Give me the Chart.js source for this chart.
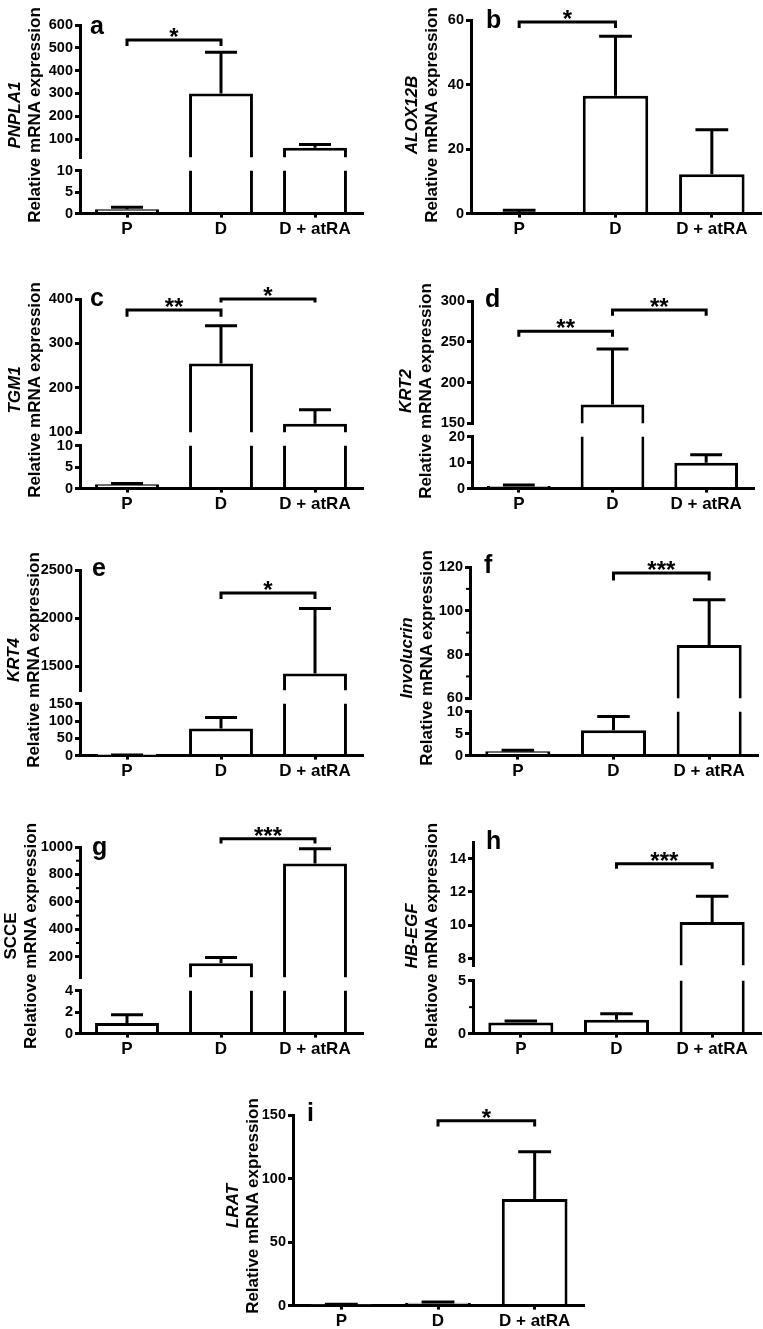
<!DOCTYPE html>
<html>
<head>
<meta charset="utf-8">
<script src="https://cdn.jsdelivr.net/npm/chart.js@4/dist/chart.umd.min.js"></script>
<style>
  html, body { margin: 0; padding: 0; background: #fff; }
  body { width: 763px; height: 1329px; position: relative; overflow: hidden; font-family: "Liberation Sans", Arial, sans-serif; }
  canvas { position: absolute; }
  .letter { position: absolute; font-weight: bold; font-size: 25px; line-height: 24px; }
  .ytitle { position: absolute; width: 280px; height: 40px; transform: rotate(-90deg); transform-origin: center; white-space: nowrap; font-weight: bold; font-size: 17px; line-height: 20px; text-align: center; }
  .ytitle .gene { display: block; }
  .ytitle .it { font-style: italic; }
</style>
</head>
<body>
<script>
Chart.defaults.font.family = '"Liberation Sans", Arial, sans-serif';
Chart.defaults.color = '#000';

const categories = ['P', 'D', 'D + atRA'];

// a - PNPLA1
const pnpla1Values = [1, 300, 62];
const pnpla1Errors = [1.5, 480, 76];
const pnpla1UpperTicks = [100, 200, 300, 400, 500, 600];
const pnpla1LowerTicks = [0, 5, 10];
const pnpla1Brackets = [[0, 1, 534, 508, '*']];

// b - ALOX12B
const alox12bValues = [0.5, 36.5, 12.2];
const alox12bErrors = [1.0, 55, 26];
const alox12bTicks = [0, 20, 40, 60];
const alox12bBrackets = [[0, 1, 59.4, 57.5, '*']];

// c - TGM1
const tgm1Values = [1, 255, 119];
const tgm1Errors = [1.2, 340, 151];
const tgm1UpperTicks = [100, 200, 300, 400];
const tgm1LowerTicks = [0, 5, 10];
const tgm1Brackets = [[0, 1, 375, 360, '**'], [1, 2, 400, 392, '*']];

// d - KRT2
const krt2Values = [1, 173, 10];
const krt2Errors = [1.4, 241, 13];
const krt2UpperTicks = [150, 200, 250, 300];
const krt2LowerTicks = [0, 10, 20];
const krt2Brackets = [[0, 1, 263, 256, '**'], [1, 2, 289, 282, '**']];

// e - KRT4
const krt4Values = [1, 78, 1424];
const krt4Errors = [1.5, 110, 2100];
const krt4UpperTicks = [1500, 2000, 2500];
const krt4LowerTicks = [0, 50, 100, 150];
const krt4Brackets = [[1, 2, 2260, 2198, '*']];

// f - Involucrin
const involucrinValues = [1, 5.8, 84.3];
const involucrinErrors = [1.2, 8.9, 105];
const involucrinUpperTicks = [60, 80, 100, 120];
const involucrinUpperMinor = [70, 90, 110];
const involucrinLowerTicks = [0, 5, 10];
const involucrinBrackets = [[1, 2, 117.3, 113.8, '***']];

// g - SCCE
const scceValues = [1, 152, 879];
const scceErrors = [1.75, 195, 988];
const scceUpperTicks = [200, 400, 600, 800, 1000];
const scceUpperMinor = [300, 500, 700, 900];
const scceLowerTicks = [0, 2, 4];
const scceBrackets = [[1, 2, 1061, 1025, '***']];

// h - HB-EGF
const hbegfValues = [1.05, 1.3, 10.2];
const hbegfErrors = [1.2, 1.88, 11.75];
const hbegfUpperTicks = [8, 10, 12, 14];
const hbegfLowerTicks = [0, 5];
const hbegfLowerMinor = [2.5];
const hbegfBrackets = [[1, 2, 13.7, 13.4, '***']];

// i - LRAT
const lratValues = [0.8, 2.2, 83.8];
const lratErrors = [1.0, 2.8, 121];
const lratTicks = [0, 50, 100, 150];
const lratBrackets = [[1, 2, 145.5, 141, '*']];

const panels = [
  { letter: 'a', lx: 90, lb: 33, gene: 'PNPLA1', italic: true, title: 'Relative mRNA expression', tx: 25, ty: 115,
    values: pnpla1Values, errors: pnpla1Errors, brackets: pnpla1Brackets, left: 80, right: 362,
    segments: [
      { top: 25, bottom: 157, min: 20, max: 600, ticks: pnpla1UpperTicks },
      { top: 171, bottom: 214, min: 0, max: 10, ticks: pnpla1LowerTicks }
    ] },
  { letter: 'b', lx: 486, lb: 27, gene: 'ALOX12B', italic: true, title: 'Relative mRNA expression', tx: 422, ty: 115,
    values: alox12bValues, errors: alox12bErrors, brackets: alox12bBrackets, left: 471, right: 760,
    segments: [
      { top: 20, bottom: 214, min: 0, max: 60, ticks: alox12bTicks }
    ] },
  { letter: 'c', lx: 90, lb: 305, gene: 'TGM1', italic: true, title: 'Relative mRNA expression', tx: 25, ty: 390,
    values: tgm1Values, errors: tgm1Errors, brackets: tgm1Brackets, left: 80, right: 362,
    segments: [
      { top: 299, bottom: 432, min: 100, max: 400, ticks: tgm1UpperTicks },
      { top: 446, bottom: 489, min: 0, max: 10, ticks: tgm1LowerTicks }
    ] },
  { letter: 'd', lx: 485, lb: 306, gene: 'KRT2', italic: true, title: 'Relative mRNA expression', tx: 416, ty: 391,
    values: krt2Values, errors: krt2Errors, brackets: krt2Brackets, left: 472, right: 753,
    segments: [
      { top: 301, bottom: 423, min: 150, max: 300, ticks: krt2UpperTicks },
      { top: 437, bottom: 489, min: 0, max: 20, ticks: krt2LowerTicks }
    ] },
  { letter: 'e', lx: 92, lb: 575, gene: 'KRT4', italic: true, title: 'Relative mRNA expression', tx: 24, ty: 660,
    values: krt4Values, errors: krt4Errors, brackets: krt4Brackets, left: 80, right: 362,
    segments: [
      { top: 570, bottom: 690, min: 1250, max: 2500, ticks: krt4UpperTicks },
      { top: 704, bottom: 756, min: 0, max: 150, ticks: krt4LowerTicks }
    ] },
  { letter: 'f', lx: 484, lb: 572, gene: 'Involucrin', italic: true, title: 'Relative mRNA expression', tx: 417, ty: 658,
    values: involucrinValues, errors: involucrinErrors, brackets: involucrinBrackets, left: 470, right: 757,
    segments: [
      { top: 567, bottom: 698, min: 60, max: 120, ticks: involucrinUpperTicks, minor: involucrinUpperMinor },
      { top: 712, bottom: 756, min: 0, max: 10, ticks: involucrinLowerTicks }
    ] },
  { letter: 'g', lx: 92, lb: 854, gene: 'SCCE', italic: false, title: 'Relatiove mRNA expression', tx: 21, ty: 936,
    values: scceValues, errors: scceErrors, brackets: scceBrackets, left: 80, right: 362,
    segments: [
      { top: 847, bottom: 977, min: 50, max: 1000, ticks: scceUpperTicks, minor: scceUpperMinor },
      { top: 991, bottom: 1034, min: 0, max: 4, ticks: scceLowerTicks }
    ] },
  { letter: 'h', lx: 486, lb: 848, gene: 'HB-EGF', italic: true, title: 'Relatiove mRNA expression', tx: 422, ty: 936,
    values: hbegfValues, errors: hbegfErrors, brackets: hbegfBrackets, left: 473, right: 760,
    segments: [
      { top: 842, bottom: 965, min: 7.6, max: 15, ticks: hbegfUpperTicks },
      { top: 981, bottom: 1034, min: 0, max: 5, ticks: hbegfLowerTicks, minor: hbegfLowerMinor }
    ] },
  { letter: 'i', lx: 307, lb: 1120, gene: 'LRAT', italic: true, title: 'Relative mRNA expression', tx: 243, ty: 1206,
    values: lratValues, errors: lratErrors, brackets: lratBrackets, left: 293, right: 583,
    segments: [
      { top: 1115, bottom: 1306, min: 0, max: 150, ticks: lratTicks }
    ] }
];

// error bars, minor ticks and significance brackets
function overlay(panel, seg, isTop) {
  return {
    id: 'overlay',
    afterDatasetsDraw(chart) {
      const { ctx, chartArea } = chart;
      const y = chart.scales.y;
      const meta = chart.getDatasetMeta(0);
      ctx.save();
      ctx.beginPath();
      ctx.rect(chartArea.left, chartArea.top, chartArea.right - chartArea.left, chartArea.bottom - chartArea.top);
      ctx.clip();
      ctx.strokeStyle = '#000';
      ctx.lineWidth = 3;
      meta.data.forEach((bar, i) => {
        const y0 = y.getPixelForValue(panel.values[i]);
        const y1 = y.getPixelForValue(panel.errors[i]);
        const half = bar.width / 4;
        ctx.beginPath();
        ctx.moveTo(bar.x, y0);
        ctx.lineTo(bar.x, y1);
        ctx.moveTo(bar.x - half, y1);
        ctx.lineTo(bar.x + half, y1);
        ctx.stroke();
      });
      ctx.restore();
      if (seg.minor) {
        ctx.save();
        ctx.strokeStyle = '#000';
        ctx.lineWidth = 2;
        seg.minor.forEach(v => {
          const py = y.getPixelForValue(v);
          ctx.beginPath();
          ctx.moveTo(chartArea.left - 4, py);
          ctx.lineTo(chartArea.left, py);
          ctx.stroke();
        });
        ctx.restore();
      }
    },
    afterDraw(chart) {
      if (!isTop) return;
      const { ctx } = chart;
      const y = chart.scales.y;
      const meta = chart.getDatasetMeta(0);
      ctx.save();
      ctx.strokeStyle = '#000';
      ctx.fillStyle = '#000';
      ctx.lineWidth = 3;
      ctx.font = 'bold 24px "Liberation Sans", Arial, sans-serif';
      ctx.textAlign = 'center';
      ctx.textBaseline = 'alphabetic';
      panel.brackets.forEach(([a, b, top, leg, label]) => {
        const x0 = meta.data[a].x, x1 = meta.data[b].x;
        const yt = y.getPixelForValue(top), yl = y.getPixelForValue(leg);
        ctx.beginPath();
        ctx.moveTo(x0, yl);
        ctx.lineTo(x0, yt);
        ctx.lineTo(x1, yt);
        ctx.lineTo(x1, yl);
        ctx.stroke();
        ctx.fillText(label, (x0 + x1) / 2, yt + 5);
      });
      ctx.restore();
    }
  };
}

function buildConfig(panel, seg, isTop, isBottom) {
  return {
    type: 'bar',
    data: {
      labels: categories,
      datasets: [{
        data: panel.values,
        backgroundColor: '#fff',
        borderColor: '#000',
        borderWidth: 3,
        borderSkipped: 'start',
        barPercentage: 0.68,
        categoryPercentage: 1,
        clip: 0
      }]
    },
    options: {
      responsive: false,
      animation: false,
      events: [],
      layout: { padding: { top: isTop ? 30 : 8, bottom: isBottom ? 4 : 8, left: 0, right: 4 } },
      plugins: { legend: { display: false }, tooltip: { enabled: false } },
      scales: {
        x: {
          display: isBottom,
          offset: true,
          grid: { offset: false, drawOnChartArea: false, tickLength: 4, lineWidth: 3, color: '#000' },
          border: { color: '#000', width: 3 },
          ticks: { color: '#000', padding: 2, font: { size: 17, weight: 'bold' } }
        },
        y: {
          min: seg.min,
          max: seg.max,
          afterBuildTicks: s => { s.ticks = seg.ticks.map(v => ({ value: v })); },
          afterFit: s => { s.width = 46; },
          grid: { drawOnChartArea: false, tickLength: 5, lineWidth: 3, color: '#000' },
          border: { color: '#000', width: 3 },
          ticks: { color: '#000', padding: 2, autoSkip: false, font: { size: 14.5, weight: 'bold' }, callback: v => String(v) }
        }
      }
    },
    plugins: [overlay(panel, seg, isTop)]
  };
}

function sizeCanvas(canvas, w, h) {
  canvas.width = w; canvas.height = h;
  canvas.style.width = w + 'px'; canvas.style.height = h + 'px';
}

panels.forEach(panel => {
  const n = panel.segments.length;
  panel.segments.forEach((seg, k) => {
    const isTop = k === 0, isBottom = k === n - 1;
    const canvas = document.createElement('canvas');
    document.body.appendChild(canvas);
    const pw = panel.right - panel.left, ph = seg.bottom - seg.top;
    sizeCanvas(canvas, pw + 120, ph + 100);
    // first pass: measure where the plot area lands inside the canvas
    let chart = new Chart(canvas, buildConfig(panel, seg, isTop, isBottom));
    const ca = chart.chartArea;
    const offL = ca.left, offT = ca.top, offR = pw + 120 - ca.right, offB = ph + 100 - ca.bottom;
    chart.destroy();
    sizeCanvas(canvas, Math.round(offL + pw + offR), Math.round(offT + ph + offB));
    canvas.style.left = (panel.left - offL) + 'px';
    canvas.style.top = (seg.top - offT) + 'px';
    chart = new Chart(canvas, buildConfig(panel, seg, isTop, isBottom));
  });

  const letter = document.createElement('div');
  letter.className = 'letter';
  letter.textContent = panel.letter;
  letter.style.left = panel.lx + 'px';
  letter.style.top = (panel.lb - 20) + 'px';
  document.body.appendChild(letter);

  const title = document.createElement('div');
  title.className = 'ytitle';
  title.style.left = (panel.tx - 140) + 'px';
  title.style.top = (panel.ty - 20) + 'px';
  const gene = document.createElement('span');
  gene.className = 'gene' + (panel.italic ? ' it' : '');
  gene.textContent = panel.gene;
  const line2 = document.createElement('span');
  line2.className = 'gene';
  line2.textContent = panel.title;
  title.appendChild(gene);
  title.appendChild(line2);
  document.body.appendChild(title);
});
</script>
</body>
</html>
